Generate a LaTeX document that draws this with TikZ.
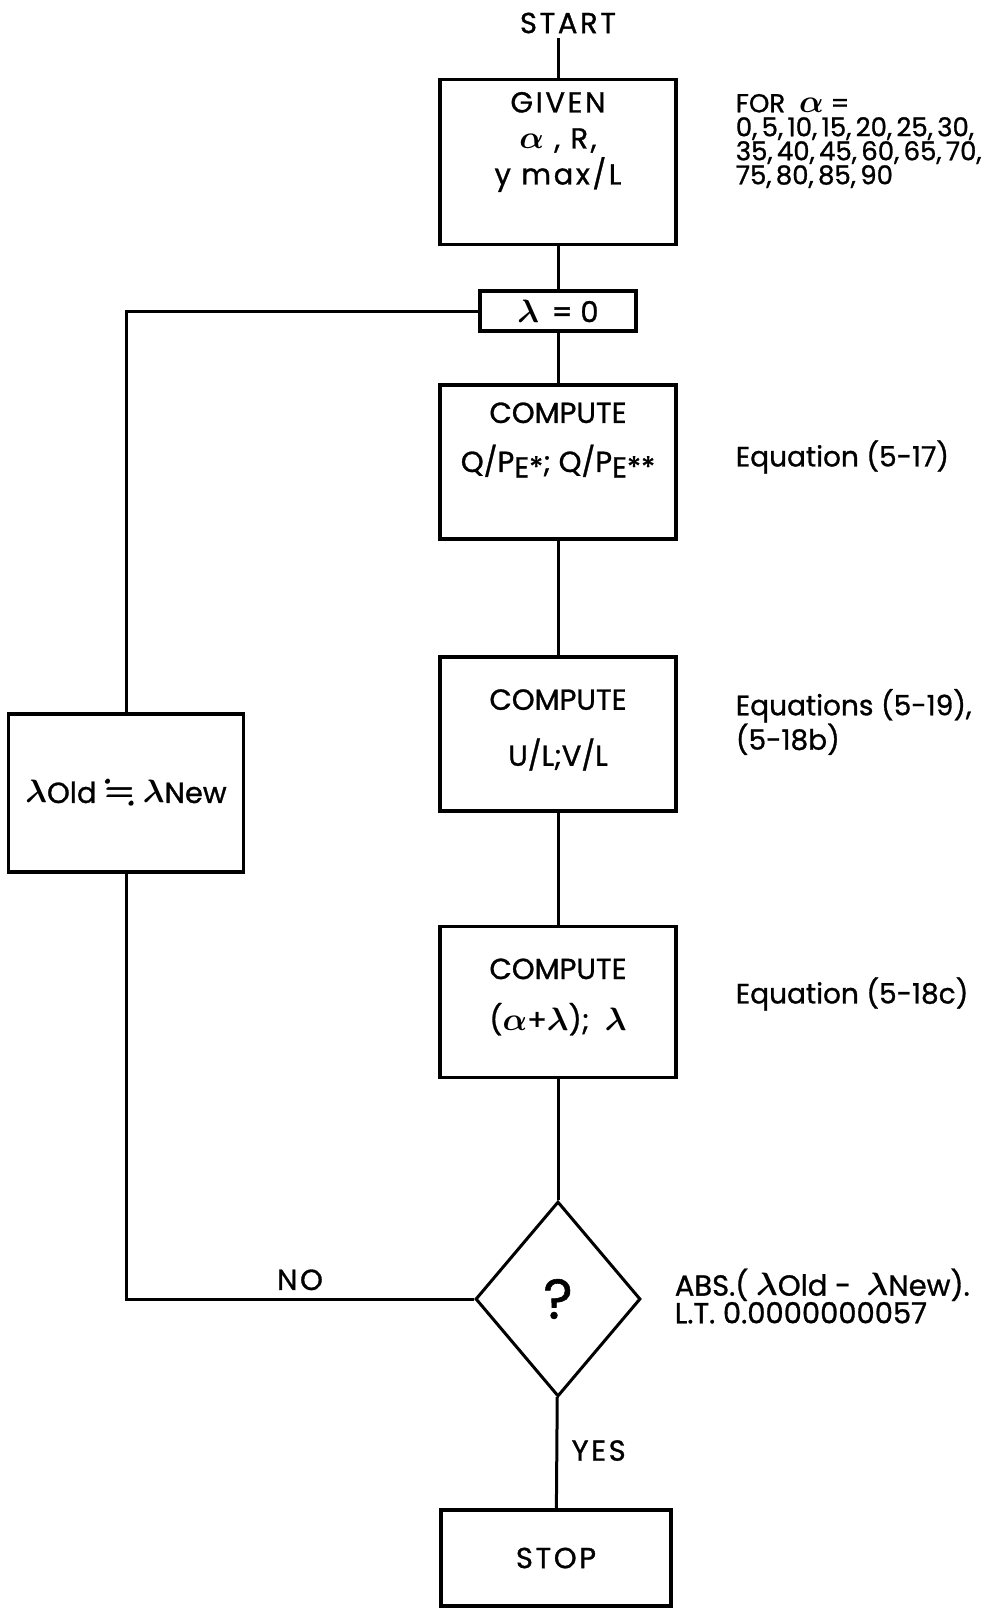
\documentclass[tikz,border=0pt]{standalone}
\usepackage{amssymb}
\usepackage{bm}
\usepackage{fontspec}
\setmainfont{Poppins}[FakeBold=1]
\usetikzlibrary{shapes.geometric}

% greek letters, drawn a bit larger than the math italic
\newcommand{\galf}{\scalebox{1.3}{$\bm\alpha$}}
\newcommand{\glam}{\scalebox{1.3}{$\bm\lambda$}}
\newcommand{\quaseig}{\scalebox{1.3}{$\bm\fallingdotseq$}}

\begin{document}
\begin{tikzpicture}[x=1pt, y=-1pt, line width=3pt,
    bloco/.style={draw, rectangle, line width=3.2pt, minimum width=236pt, inner sep=0pt},
    texto/.style={align=center, font=\fontsize{29}{36}\selectfont},
    largo/.style={align=center, font=\fontsize{29}{36}\selectfont\addfontfeatures{LetterSpace=9}},
    nota/.style={anchor=west, align=left, font=\fontsize{28}{26}\selectfont}]
\useasboundingbox (0,0) rectangle (987,1610);

% start
\node[largo] (start) at (568,23) {START};

% given data
\node[bloco, minimum height=165pt] (given) at (558,162) {};
\node[largo] (given-t) at (558,142) {GIVEN\\\galf\ , R,\\y max/L};
\node[nota, font=\fontsize{26}{24}\selectfont] (given-n) at (731,141)
  {FOR \ \galf\ =\\0,\,5,\,10,\,15,\,20,\,25,\,30,\\35,\,40,\,45,\,60,\,65,\,70,\\75,\,80,\,85,\,90};

% initial lambda
\node[bloco, minimum width=156pt, minimum height=40pt, texto] (lam0) at (558,311) {\glam\ \,= 0};

% Q/PE
\node[bloco, minimum height=154pt] (qpe) at (558,462) {};
\node[texto, font=\fontsize{29}{49}\selectfont] (qpe-t) at (558,440)
  {COMPUTE\\Q/P\raisebox{-0.35ex}{E*}; Q/P\raisebox{-0.35ex}{E**}};
\node[nota] (qpe-n) at (731,457) {Equation (5-17)};

% U/L, V/L
\node[bloco, minimum height=154pt] (uvl) at (558,734) {};
\node[texto, font=\fontsize{29}{56}\selectfont] (uvl-t) at (558,730) {COMPUTE\\U/L;V/L};
\node[nota] (uvl-n) at (731,722) {Equations (5-19),\\(5-18b)};

% alpha + lambda
\node[bloco, minimum height=151pt] (alam) at (558,1002) {};
\node[texto, font=\fontsize{29}{51}\selectfont] (alam-t) at (558,997) {COMPUTE\\(\galf+\glam); \ \glam};
\node[nota] (alam-n) at (731,994) {Equation (5-18c)};

% test
\node[draw, diamond, aspect=0.846, minimum width=165pt, minimum height=195pt, inner sep=0pt,
  font=\fontsize{56}{56}\selectfont] (test) at (558,1299) {?};
\node[nota, font=\fontsize{29}{25}\selectfont] (test-n) at (670,1296)
  {ABS.( \glam Old - \ \glam New).\\L.T. 0.0000000057};

% lambda old = lambda new
\node[bloco, minimum width=235pt, minimum height=158pt, texto] (old) at (126,793)
  {\glam Old \quaseig\ \glam New};

% stop
\node[bloco, minimum width=230pt, minimum height=96pt, largo] (stop) at (556,1558) {STOP};

% main line
\draw (given) -- (given |- start.south);
\draw (given) -- (lam0);
\draw (lam0) -- (qpe);
\draw (qpe) -- (uvl);
\draw (uvl) -- (alam);
\draw (alam) -- (test);
\draw (test) -- node[largo, right, pos=0.48, xshift=10pt] (yes) {YES} (stop);

% loop back
\draw (test) -- node[largo, above, pos=0.5, yshift=4pt] (no) {NO} (test -| old) -- (old);
\draw (lam0) -| (old);
\end{tikzpicture}
\end{document}
